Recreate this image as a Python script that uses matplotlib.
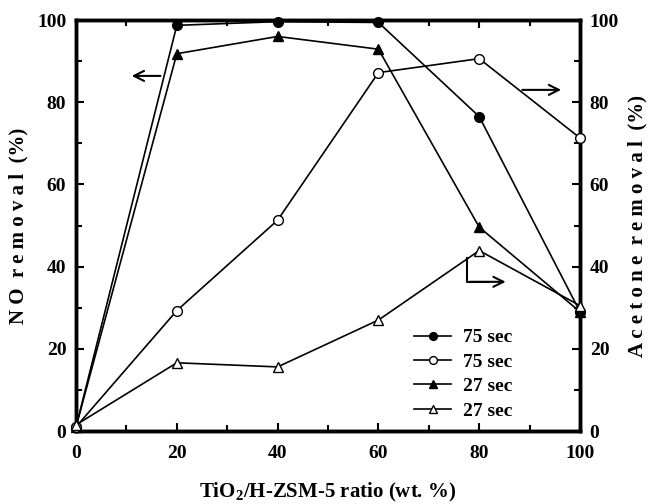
import matplotlib.pyplot as plt
from matplotlib.ticker import MultipleLocator

plt.rcParams['font.family'] = ['Liberation Serif', 'DejaVu Serif']
plt.rcParams['font.weight'] = 'bold'
plt.rcParams['mathtext.fontset'] = 'custom'
plt.rcParams['mathtext.rm'] = 'Liberation Serif'
plt.rcParams['mathtext.bf'] = 'Liberation Serif:bold'

# dados
ratio = [0, 20, 40, 60, 80, 100]
no_75 = [1.0, 98.7, 99.6, 99.4, 76.5, 29.0]
acetone_75 = [1.0, 29.3, 51.3, 87.2, 90.6, 71.3]
no_27 = [1.0, 91.8, 96.0, 92.9, 49.6, 29.0]
acetone_27 = [1.5, 16.6, 15.6, 27.0, 43.9, 30.5]
labels = ['75 sec', '75 sec', '27 sec', '27 sec']

fig = plt.figure(figsize=(6.52, 5.04), dpi=100)
ax = fig.add_axes([0.1166, 0.1448, 0.7730, 0.8155])
ax2 = ax.twinx()

l1, = ax.plot(ratio, no_75, color='black', lw=1.2, marker='o', ms=7,
              mfc='black', mec='black', clip_on=False, zorder=5)
l3, = ax.plot(ratio, no_27, color='black', lw=1.2, marker='^', ms=7,
              mfc='black', mec='black', clip_on=False, zorder=5)
l2, = ax2.plot(ratio, acetone_75, color='black', lw=1.2, marker='o', ms=7,
               mfc='white', mec='black', clip_on=False, zorder=5)
l4, = ax2.plot(ratio, acetone_27, color='black', lw=1.2, marker='^', ms=7,
               mfc='white', mec='black', clip_on=False, zorder=5)

for a in (ax, ax2):
    a.set_xlim(0, 100)
    a.set_ylim(0, 100)
    a.xaxis.set_major_locator(MultipleLocator(20))
    a.xaxis.set_minor_locator(MultipleLocator(10))
    a.yaxis.set_major_locator(MultipleLocator(20))
    a.yaxis.set_minor_locator(MultipleLocator(10))
    for s in a.spines.values():
        s.set_linewidth(2.5)

ax.tick_params(which='both', direction='in', top=True, labelsize=14)
ax.tick_params(axis='x', pad=10)
ax.tick_params(axis='y', pad=7)
ax.tick_params(which='major', length=6, width=1.5)
ax.tick_params(which='minor', length=4, width=1.5)
ax2.tick_params(which='both', direction='in', labelsize=14, pad=7)
ax2.tick_params(which='major', length=6, width=1.5)
ax2.tick_params(which='minor', length=4, width=1.5)
for t in ax.get_xticklabels() + ax.get_yticklabels() + ax2.get_yticklabels():
    t.set_fontweight('bold')

ax.set_xlabel('TiO$_\\mathbf{2}$/H-ZSM-5 ratio (wt. %)', fontsize=15,
              fontweight='bold', labelpad=14)
ax.set_ylabel('N O  r e m o v a l  (%)', fontsize=15, fontweight='bold', labelpad=6)
ax2.set_ylabel('A c e t o n e  r e m o v a l  (%)', fontsize=15,
               fontweight='bold', labelpad=6)

# setas indicando o eixo
arrow = dict(arrowstyle='->', color='black', lw=1.5, mutation_scale=18)
ax.annotate('', xy=(10.5, 86.4), xytext=(17.3, 86.4), arrowprops=arrow)
ax.annotate('', xy=(96.8, 83.0), xytext=(88.0, 83.0), arrowprops=arrow)
ax.plot([77.6, 77.6, 82.0], [42.1, 36.3, 36.3], color='black', lw=1.5)
ax.annotate('', xy=(85.8, 36.3), xytext=(77.6, 36.3), arrowprops=arrow)

leg = ax.legend([l1, l2, l3, l4], labels, loc='lower right',
                bbox_to_anchor=(0.90, -0.015), frameon=False, fontsize=14,
                handlelength=1.9, labelspacing=0.35, handletextpad=0.6,
                markerscale=0.8)
for t in leg.get_texts():
    t.set_fontweight('bold')

fig.savefig('out.png', dpi=100)
